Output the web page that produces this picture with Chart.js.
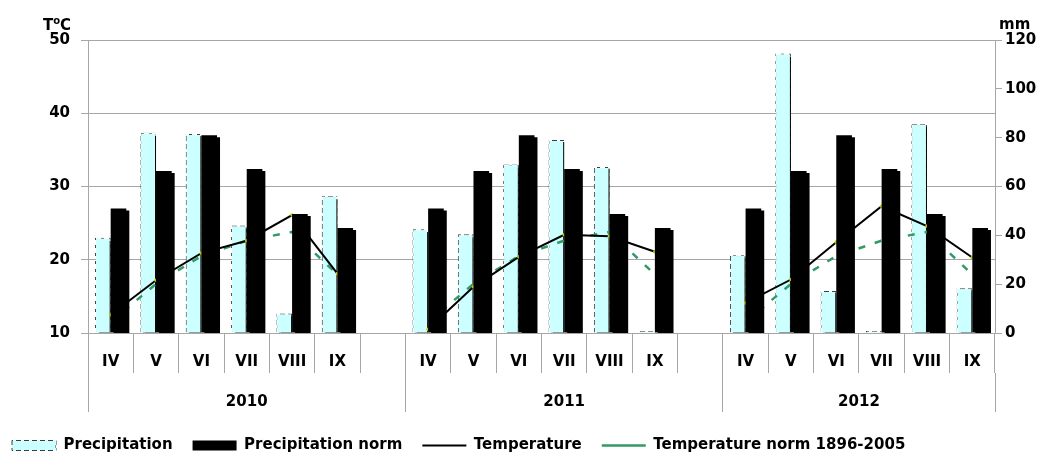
<!DOCTYPE html>
<html><head><meta charset="utf-8">
<script src="https://cdn.jsdelivr.net/npm/chart.js@4/dist/chart.umd.min.js"></script>
<style>html,body{margin:0;padding:0;background:#fff}#wrap{width:1045px;height:453px;position:relative}</style>
</head><body><div id="wrap"><canvas id="c"></canvas></div>
<script>
// ---- data ----
const months = ['IV','V','VI','VII','VIII','IX','', 'IV','V','VI','VII','VIII','IX','', 'IV','V','VI','VII','VIII','IX'];
const years = ['2010','2011','2012'];
const yearFirstSlot = [0, 7, 14];
const yearSlotCount = [7, 7, 6];
const precipitation     = [39, 82, 81.5, 44, 8, 56, null,   42.5, 40.4, 69, 79, 68, 0.8, null,   31.8, 114.5, 17.2, 0.8, 85.5, 18.3];
const precipitationNorm = [51, 66.3, 81, 67.2, 48.7, 43, null,   51, 66.3, 81, 67.2, 48.7, 43, null,   51, 66.3, 81, 67.2, 48.7, 43];
const temperature       = [12.5, 17.2, 20.9, 22.6, 26.1, 18.1, null,   10.5, 16.3, 20.4, 23.4, 23.2, 21.1, null,   14.1, 17.3, 22.4, 27.3, 24.6, 20.3];
const temperatureNorm   = [11.5, 16.7, 20.5, 22.6, 23.8, 18.0, null,   11.5, 16.7, 20.5, 22.6, 23.8, 18.0, null,   11.5, 16.7, 20.5, 22.6, 23.8, 18.0];
const tempTicks = [10, 20, 30, 40, 50];
const precipTicks = [0, 20, 40, 60, 80, 100, 120];
const seriesNames = ['Precipitation', 'Precipitation norm', 'Temperature', 'Temperature norm 1896-2005'];
const leftUnit = ['T', 'o', 'C'];
const rightUnit = 'mm';

// ---- derived ----
const yearCenters = years.map((y, i) => yearFirstSlot[i] + yearSlotCount[i] / 2);
const yearBounds = [0].concat(years.map((y, i) => yearFirstSlot[i] + yearSlotCount[i]));
const FONT = '"DejaVu Sans", Verdana, sans-serif';
Chart.defaults.font.family = FONT;
Chart.defaults.color = '#000';

const dashPattern = (() => {
  const c = document.createElement('canvas'); c.width = 8; c.height = 8;
  const g = c.getContext('2d'); g.fillStyle = '#3c3c3c';
  for (let x = 0; x < 8; x++) for (let y = 0; y < 8; y++) {
    if ((x % 8 < 5) === (y % 8 < 5)) g.fillRect(x, y, 1, 1);
  }
  return g.createPattern(c, 'repeat');
})();

function withShadow(ctx) {
  ctx.shadowColor = '#000'; ctx.shadowOffsetX = 3; ctx.shadowOffsetY = 2; ctx.shadowBlur = 0;
}

// Draw order: precipitation bars first, then lines, then norm bars on top.
const drawOrder = {
  id: 'drawOrder',
  beforeDatasetsDraw(chart) {
    const meta = chart.getDatasetMeta(0);
    if (!meta.visible) return;
    const { ctx, chartArea: a } = chart;
    ctx.save();
    ctx.beginPath(); ctx.rect(a.left, a.top, a.right - a.left, a.bottom - a.top); ctx.clip();
    withShadow(ctx);
    meta.controller.draw();
    ctx.restore();
  },
  beforeDatasetDraw(chart, args) {
    if (args.index === 0) return false;
    if (args.meta.type === 'bar') { chart.ctx.save(); withShadow(chart.ctx); }
  },
  afterDatasetDraw(chart, args) {
    if (args.index !== 0 && args.meta.type === 'bar') chart.ctx.restore();
  }
};

const unitTitles = {
  id: 'unitTitles',
  afterDraw(chart) {
    const { ctx, chartArea } = chart;
    ctx.save(); ctx.fillStyle = '#000'; ctx.textBaseline = 'alphabetic'; ctx.textAlign = 'left';
    let x = chartArea.left - 45; const y = chartArea.top - 10;
    ctx.font = 'bold 15px ' + FONT; ctx.fillText(leftUnit[0], x, y); x += ctx.measureText(leftUnit[0]).width;
    ctx.font = 'bold 10px ' + FONT; ctx.fillText(leftUnit[1], x, y - 6); x += ctx.measureText(leftUnit[1]).width;
    ctx.font = 'bold 15px ' + FONT; ctx.fillText(leftUnit[2], x, y);
    ctx.fillText(rightUnit, chartArea.right + 4, y - 1.5);
    ctx.restore();
  }
};

const gridCol = '#a6a6a6';
new Chart(document.getElementById('c'), {
  type: 'bar',
  data: {
    labels: months,
    datasets: [
      { label: seriesNames[0], data: precipitation, yAxisID: 'y1', order: 0,
        backgroundColor: '#ccffff', borderColor: dashPattern, borderWidth: 1, borderSkipped: 'bottom',
        categoryPercentage: 0.69, barPercentage: 1 },
      { label: seriesNames[1], data: precipitationNorm, yAxisID: 'y1', order: 1,
        backgroundColor: '#000', borderWidth: 0, categoryPercentage: 0.69, barPercentage: 1 },
      { type: 'line', label: seriesNames[2], data: temperature, yAxisID: 'y', order: 2,
        borderColor: '#000', backgroundColor: '#000', borderWidth: 2, tension: 0, spanGaps: false,
        pointRadius: 1.8, pointBackgroundColor: '#c8c800', pointBorderWidth: 0 },
      { type: 'line', label: seriesNames[3], data: temperatureNorm, yAxisID: 'y', order: 3,
        borderColor: '#339966', backgroundColor: '#339966', borderWidth: 2.5, borderDash: [7, 10], tension: 0,
        spanGaps: false, pointRadius: 0 }
    ]
  },
  options: {
    responsive: true, maintainAspectRatio: false, animation: false,
    layout: { padding: { top: 40, left: -8, right: 0, bottom: -10 } },
    plugins: {
      tooltip: { enabled: false },
      legend: {
        position: 'bottom', align: 'start',
        labels: {
          usePointStyle: true, pointStyleWidth: 44, boxHeight: 10, padding: 20, color: '#000',
          font: { size: 15, weight: 'bold' },
          generateLabels(chart) {
            const items = Chart.defaults.plugins.legend.labels.generateLabels(chart);
            items.forEach(it => {
              const ds = chart.data.datasets[it.datasetIndex];
              if (ds.type === 'line') { it.pointStyle = 'line'; it.lineWidth = ds.borderWidth; it.strokeStyle = ds.borderColor; }
              else { it.pointStyle = 'rect'; it.lineWidth = ds.borderWidth; }
            });
            return items.sort((a, b) => a.datasetIndex - b.datasetIndex);
          }
        }
      }
    },
    scales: {
      x: {
        type: 'category', offset: true,
        grid: { offset: true, drawOnChartArea: false, tickLength: 40, color: gridCol, tickColor: gridCol },
        border: { color: gridCol },
        ticks: { autoSkip: false, maxRotation: 0, padding: -20, color: '#000', font: { size: 15, weight: 'bold' } },
        afterFit(s) { s.height = 40; }
      },
      x2: {
        type: 'linear', position: 'bottom', weight: 1, min: 0, max: months.length, offset: false,
        afterBuildTicks(s) { s.ticks = yearBounds.concat(yearCenters).sort((a, b) => a - b).map(v => ({ value: v })); },
        ticks: { autoSkip: false, maxRotation: 0, padding: -19, color: '#000', font: { size: 15, weight: 'bold' },
          callback(v) { const i = yearCenters.indexOf(v); return i >= 0 ? years[i] : ''; } },
        grid: { offset: false, drawOnChartArea: false, tickLength: 39,
          tickColor: (ctx) => yearBounds.includes(ctx.tick && ctx.tick.value) ? gridCol : 'rgba(0,0,0,0)' },
        border: { display: false },
        afterFit(s) { s.height = 45; }
      },
      y: {
        position: 'left', min: tempTicks[0], max: tempTicks[tempTicks.length - 1],
        ticks: { stepSize: tempTicks[1] - tempTicks[0], padding: 11, color: '#000', font: { size: 15, weight: 'bold' } },
        grid: { color: gridCol, tickLength: 7 },
        border: { color: gridCol },
        afterFit(s) { s.width = 96; }
      },
      y1: {
        position: 'right', min: precipTicks[0], max: precipTicks[precipTicks.length - 1],
        ticks: { stepSize: precipTicks[1] - precipTicks[0], padding: 3, color: '#000', font: { size: 15, weight: 'bold' } },
        grid: { drawOnChartArea: false, tickLength: 7, color: gridCol },
        border: { color: gridCol },
        afterFit(s) { s.width = 50; }
      }
    }
  },
  plugins: [drawOrder, unitTitles]
});
</script></body></html>
